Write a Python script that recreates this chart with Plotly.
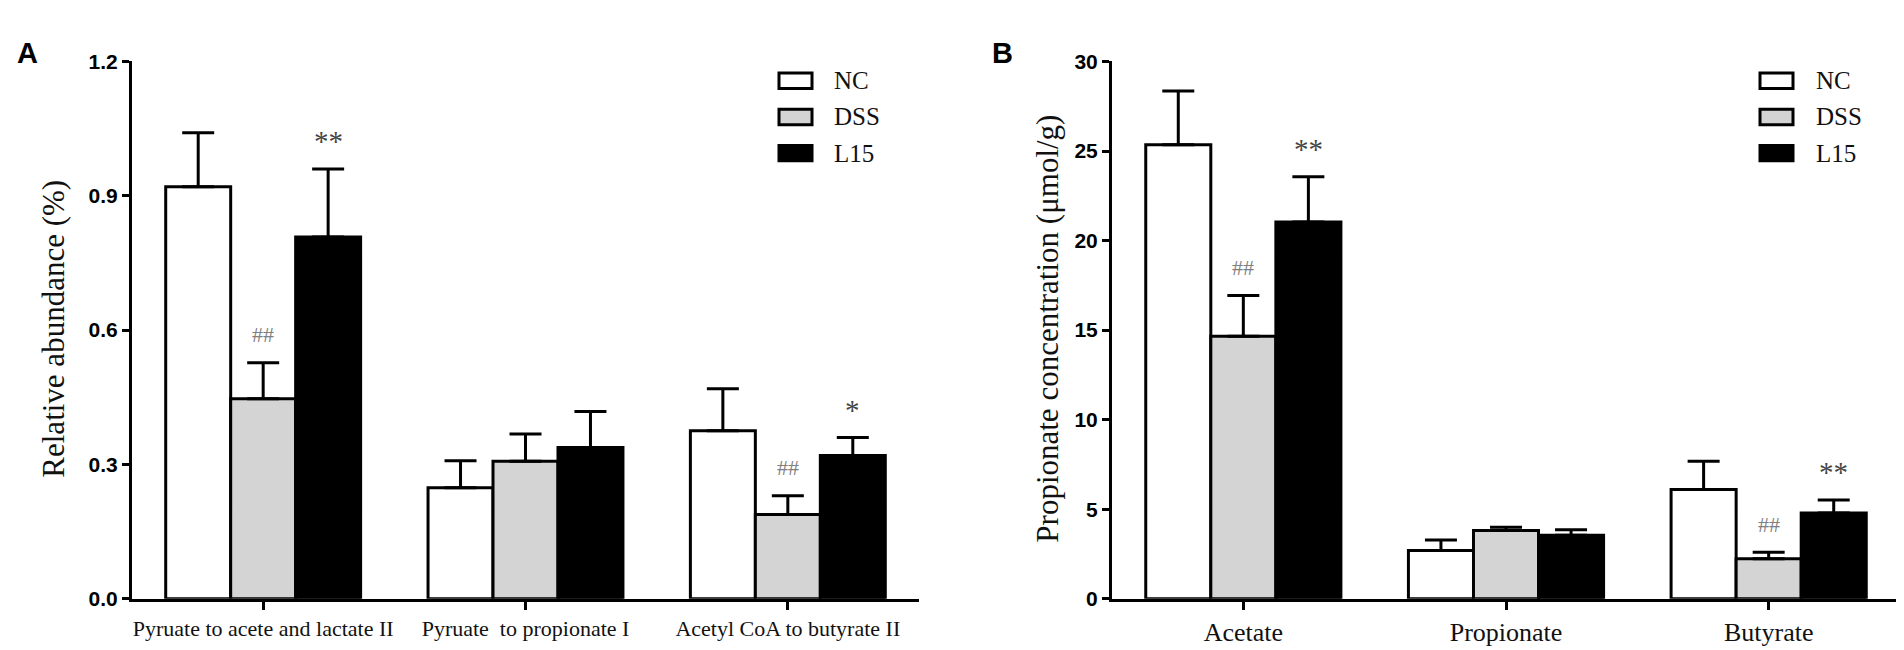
import plotly.graph_objects as go

W, H = 1904, 650

groups = ["NC", "DSS", "L15"]
fill_colors = ["#ffffff", "#d4d4d4", "#000000"]

# Panel A data
cats_a = ["Pyruate to acete and lactate II", "Pyruate  to propionate I", "Acetyl CoA to butyrate II"]
nc_a = [0.92, 0.248, 0.375]
nc_a_err = [0.121, 0.06, 0.094]
dss_a = [0.447, 0.307, 0.188]
dss_a_err = [0.08, 0.061, 0.042]
l15_a = [0.808, 0.338, 0.32]
l15_a_err = [0.152, 0.08, 0.04]
sig_a = [["", "", ""], ["##", "", "##"], ["**", "", "*"]]

# Panel B data
cats_b = ["Acetate", "Propionate", "Butyrate"]
nc_b = [25.35, 2.69, 6.1]
nc_b_err = [3.0, 0.59, 1.58]
dss_b = [14.66, 3.81, 2.24]
dss_b_err = [2.27, 0.19, 0.36]
l15_b = [21.04, 3.54, 4.79]
l15_b_err = [2.53, 0.32, 0.72]
sig_b = [["", "", ""], ["##", "", "##"], ["**", "", "**"]]

ticks_a = [0, 0.3, 0.6, 0.9, 1.2]
ticks_b = [0, 5, 10, 15, 20, 25, 30]

# layout geometry (pixels)
ax_a = (124, 911)
ax_b = (1104, 1892)
y_top, y_bot = 43, 600
bargap = 0.257

def px(x):
    return x / W

def py(y):
    return (H - y) / H

serif = "Liberation Serif"
sans = "Liberation Sans"

fig = go.Figure()

panel_vals_a = [(nc_a, nc_a_err), (dss_a, dss_a_err), (l15_a, l15_a_err)]
panel_vals_b = [(nc_b, nc_b_err), (dss_b, dss_b_err), (l15_b, l15_b_err)]

for (cats, vals, xa, ya) in [(cats_a, panel_vals_a, "x", "y"), (cats_b, panel_vals_b, "x2", "y2")]:
    for i, g in enumerate(groups):
        v, e = vals[i]
        fig.add_trace(go.Bar(
            x=cats, y=v, name=g, xaxis=xa, yaxis=ya, showlegend=False,
            marker=dict(color=fill_colors[i], line=dict(color="#000000", width=3)),
            error_y=dict(type="data", array=e, arrayminus=[0] * len(e), symmetric=False,
                         color="#000000", thickness=3, width=16),
        ))

annotations = []
shapes = []

# significance marks
for (cats, vals, sig, xa, ya, ax) in [
    (cats_a, panel_vals_a, sig_a, "x", "y", ax_a),
    (cats_b, panel_vals_b, sig_b, "x2", "y2", ax_b),
]:
    cat_w = (ax[1] - ax[0]) / len(cats)
    bar_w = cat_w * (1 - bargap) / len(groups)
    for i in range(len(groups)):
        v, e = vals[i]
        for j, c in enumerate(cats):
            s = sig[i][j]
            if not s:
                continue
            is_hash = s.startswith("#")
            annotations.append(dict(
                x=c, y=v[j] + e[j], xref=xa, yref=ya,
                xshift=(i - 1) * bar_w, yshift=28, yanchor="middle",
                text=s, showarrow=False,
                font=dict(family=serif, size=22 if is_hash else 29,
                          color="#808080" if is_hash else "#444444"),
            ))

# legends
for (lx, tx) in [(771, 824), (1752, 1806)]:
    for i, g in enumerate(groups):
        cy = 63 + i * 37.5
        shapes.append(dict(
            type="rect", xref="paper", yref="paper",
            x0=px(lx), x1=px(lx + 33), y0=py(cy + 8), y1=py(cy - 8),
            fillcolor=fill_colors[i], line=dict(color="#000000", width=3),
        ))
        annotations.append(dict(
            x=px(tx), y=py(cy), xref="paper", yref="paper", xanchor="left", yanchor="middle",
            text=g, showarrow=False, font=dict(family=serif, size=25, color="#111111"),
        ))

# panel letters
for (lbl, x) in [("A", 7), ("B", 982)]:
    annotations.append(dict(
        x=px(x), y=py(16), xref="paper", yref="paper", xanchor="left", yanchor="top",
        text="<b>" + lbl + "</b>", showarrow=False,
        font=dict(family=sans, size=29, color="#000000"),
    ))

# y-axis titles
for (t, x) in [("Relative abundance (%)", 46), ("Propionate concentration (μmol/g)", 1040)]:
    annotations.append(dict(
        x=px(x), y=py(320), xref="paper", yref="paper", xanchor="center", yanchor="middle",
        text=t, textangle=-90, showarrow=False,
        font=dict(family=serif, size=31, color="#111111"),
    ))

common_x = dict(showline=True, linewidth=3, linecolor="#000000", ticks="outside",
                ticklen=8, tickwidth=3, tickcolor="#000000", showgrid=False,
                zeroline=False, fixedrange=True)
common_y = dict(showline=True, linewidth=3, linecolor="#000000", ticks="outside",
                ticklen=7, tickwidth=3, tickcolor="#000000", showgrid=False,
                zeroline=False,
                tickfont=dict(family=sans, size=21, color="#000000", weight="bold"))

fig.update_layout(
    width=W, height=H,
    margin=dict(l=0, r=0, t=0, b=0),
    paper_bgcolor="#ffffff", plot_bgcolor="#ffffff",
    barmode="group", bargap=bargap, bargroupgap=0,
    showlegend=False,
    xaxis=dict(domain=[px(ax_a[0]), px(ax_a[1])], anchor="y",
               tickfont=dict(family=serif, size=22, color="#111111"), **common_x),
    yaxis=dict(domain=[py(y_bot), py(y_top)], anchor="x", range=[0, 1.2],
               tickvals=ticks_a, tickformat=".1f", **common_y),
    xaxis2=dict(domain=[px(ax_b[0]), px(ax_b[1])], anchor="y2",
                tickfont=dict(family=serif, size=26, color="#111111"), **common_x),
    yaxis2=dict(domain=[py(y_bot), py(y_top)], anchor="x2", range=[0, 30],
                tickvals=ticks_b, **common_y),
    annotations=annotations,
    shapes=shapes,
)

fig.write_html("out.html")
